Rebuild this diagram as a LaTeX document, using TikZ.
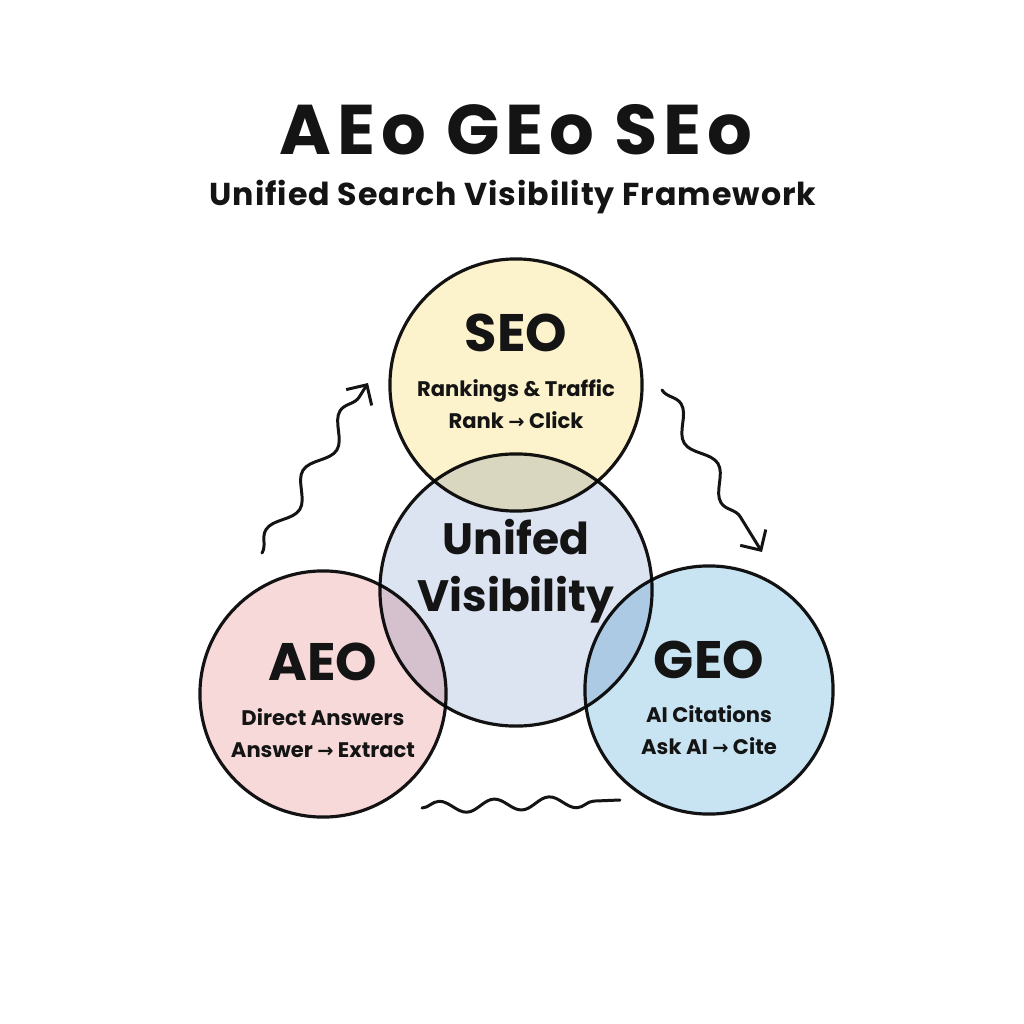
\documentclass[tikz,border=0pt]{standalone}
\usepackage{fontspec}
\setmainfont{Poppins}
\newfontfamily\arrowfont{DejaVu Sans}
\usetikzlibrary{arrows.meta,positioning,decorations.pathmorphing}
\definecolor{ink}{HTML}{141414}
\definecolor{seofill}{HTML}{FCF2CC}
\definecolor{unifill}{HTML}{DCE3F1}
\definecolor{aeofill}{HTML}{F7D9D9}
\definecolor{geofill}{HTML}{C8E4F2}
\newcommand{\flow}{{\arrowfont\fontsize{5.5}{6}\selectfont\char"2192}}

\begin{document}
\begin{tikzpicture}[
  x=0.01cm, y=-0.01cm,
  zone/.style={circle, draw=ink, line width=0.9pt, inner sep=0pt},
  head/.style={font=\fontsize{15}{16}\selectfont\bfseries, text=ink},
  note/.style={font=\fontsize{6}{9.1}\selectfont\bfseries, align=center, text=ink},
  wave/.style={draw=ink, line width=0.85pt, line cap=round, decorate,
    decoration={snake, segment length=0.7cm, amplitude=0.09cm, post length=0.16cm}},
  tip/.style={-{Straight Barb[length=1.5mm,width=3mm]}}
]
\useasboundingbox (0,0) rectangle (1024,1024);

\node[font=\fontsize{20}{22}\selectfont\bfseries\addfontfeature{LetterSpace=8}, text=ink] (title) at (516,130) {AEo GEo SEo};
\node[font=\fontsize{9}{10}\selectfont\bfseries\addfontfeature{LetterSpace=3}, text=ink] (subtitle) at (513,197) {Unified Search Visibility Framework};

% circles, overlaps mixed by multiply
\begin{scope}[blend group=multiply]
\node[zone, fill=seofill, minimum size=2.52cm] (seo) at (516,385) {};
\node[zone, fill=unifill, minimum size=2.72cm] (uni) at (516,590) {};
\node[zone, fill=aeofill, minimum size=2.46cm] (aeo) at (323,694) {};
\node[zone, fill=geofill, minimum size=2.48cm] (geo) at (709,690) {};
\end{scope}

\node[head] (seoH) at ([yshift=0.52cm]seo.center) {SEO};
\node[note] (seoT) at ([yshift=-0.19cm]seo.center) {Rankings \& Traffic\\Rank \flow{} Click};

\node[font=\fontsize{12.5}{16.2}\selectfont\bfseries, align=center, text=ink] (uniH) at ([yshift=0.19cm]uni.center) {Unifed\\Visibility};

\node[head] (aeoH) at ([yshift=0.32cm]aeo.center) {AEO};
\node[note] (aeoT) at ([yshift=-0.39cm]aeo.center) {Direct Answers\\Answer \flow{} Extract};

\node[head] (geoH) at ([yshift=0.30cm]geo.center) {GEO};
\node[note] (geoT) at ([yshift=-0.40cm]geo.center) {AI Citations\\Ask AI \flow{} Cite};

% wavy links
\coordinate (upA) at (262,553);
\coordinate (upB) at (368,383);
\coordinate (dnA) at (662,390);
\coordinate (dnB) at (762,552);
\coordinate (lowA) at (422,808);
\coordinate (lowB) at (620,800);
\draw[wave, tip] (upA) -- (upB);
\draw[wave, tip] (dnA) -- (dnB);
\draw[wave, decoration={segment length=0.55cm, amplitude=0.06cm, post length=0pt}] (lowA) -- (lowB);
\end{tikzpicture}
\end{document}
